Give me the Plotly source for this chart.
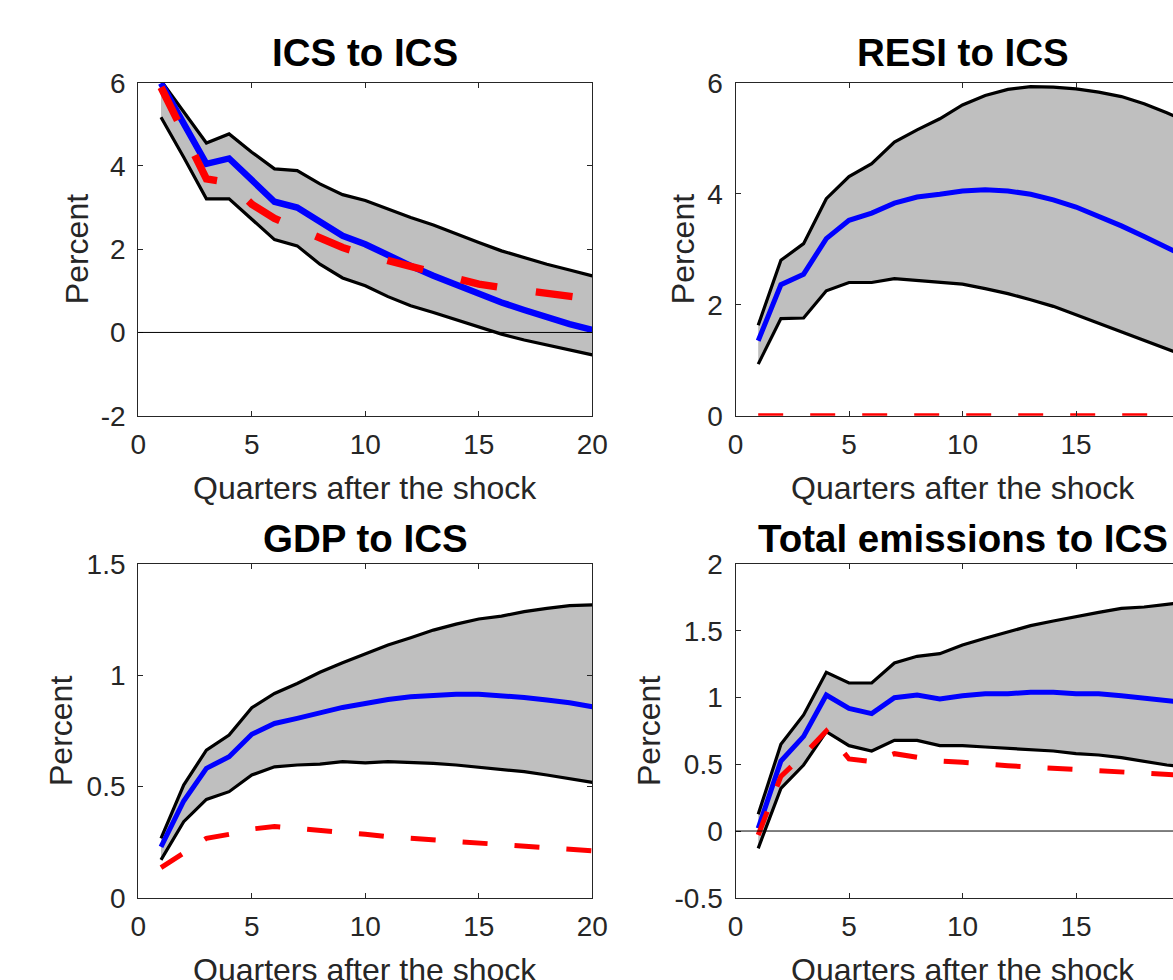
import plotly.graph_objects as go

W, H = 1173, 980
quarters = list(range(1, 21))

# Panel 1: ICS to ICS
ics_upper = [6.05, 5.29, 4.55, 4.77, 4.33, 3.93, 3.89, 3.57, 3.31, 3.17, 2.96, 2.76, 2.58, 2.36, 2.16, 1.96, 1.80, 1.64, 1.50, 1.36]
ics_lower = [5.17, 4.21, 3.21, 3.21, 2.72, 2.23, 2.08, 1.64, 1.31, 1.12, 0.86, 0.64, 0.48, 0.30, 0.12, -0.04, -0.18, -0.30, -0.42, -0.54]
ics_median = [5.99, 5.05, 4.05, 4.18, 3.65, 3.14, 3.00, 2.68, 2.32, 2.12, 1.84, 1.60, 1.36, 1.14, 0.92, 0.72, 0.54, 0.36, 0.20, 0.06]
ics_alt = [5.89, 4.80, 3.69, 3.60, 3.08, 2.74, 2.50, 2.24, 2.04, 1.87, 1.72, 1.59, 1.43, 1.30, 1.16, 1.08, 1.00, 0.94, 0.87, 0.80]

# Panel 2: RESI to ICS
resi_upper = [1.63, 2.80, 3.10, 3.91, 4.31, 4.54, 4.93, 5.15, 5.35, 5.60, 5.77, 5.88, 5.93, 5.92, 5.89, 5.83, 5.75, 5.62, 5.46, 5.28]
resi_lower = [0.93, 1.75, 1.76, 2.25, 2.40, 2.40, 2.47, 2.44, 2.41, 2.37, 2.29, 2.20, 2.09, 1.97, 1.82, 1.67, 1.52, 1.37, 1.21, 1.05]
resi_median = [1.35, 2.36, 2.55, 3.19, 3.52, 3.65, 3.83, 3.94, 3.99, 4.05, 4.07, 4.05, 3.99, 3.89, 3.76, 3.60, 3.42, 3.23, 3.04, 2.83]
resi_alt = [0.0] * 20

# Panel 3: GDP to ICS
gdp_upper = [0.267, 0.507, 0.664, 0.732, 0.855, 0.919, 0.964, 1.014, 1.057, 1.096, 1.137, 1.170, 1.204, 1.231, 1.254, 1.267, 1.287, 1.302, 1.314, 1.317]
gdp_lower = [0.170, 0.342, 0.442, 0.477, 0.552, 0.589, 0.597, 0.601, 0.612, 0.607, 0.612, 0.609, 0.604, 0.597, 0.586, 0.577, 0.567, 0.552, 0.537, 0.519]
gdp_median = [0.229, 0.435, 0.582, 0.634, 0.735, 0.784, 0.807, 0.834, 0.856, 0.874, 0.892, 0.904, 0.912, 0.915, 0.915, 0.910, 0.901, 0.889, 0.877, 0.859]
gdp_alt = [0.135, 0.203, 0.267, 0.285, 0.309, 0.320, 0.312, 0.304, 0.294, 0.285, 0.274, 0.267, 0.259, 0.252, 0.244, 0.237, 0.229, 0.222, 0.217, 0.211]

# Panel 4: Total emissions to ICS
em_upper = [0.125, 0.65, 0.87, 1.19, 1.11, 1.11, 1.26, 1.31, 1.33, 1.395, 1.445, 1.49, 1.54, 1.575, 1.61, 1.64, 1.67, 1.68, 1.70, 1.72]
em_lower = [-0.13, 0.32, 0.495, 0.745, 0.64, 0.60, 0.68, 0.68, 0.64, 0.64, 0.63, 0.62, 0.61, 0.60, 0.58, 0.57, 0.55, 0.525, 0.495, 0.48]
em_median = [0.02, 0.525, 0.71, 1.02, 0.92, 0.88, 1.00, 1.02, 0.99, 1.015, 1.03, 1.03, 1.04, 1.04, 1.03, 1.03, 1.015, 1.00, 0.98, 0.96]
em_alt = [-0.03, 0.41, 0.57, 0.75, 0.54, 0.52, 0.58, 0.55, 0.525, 0.515, 0.50, 0.49, 0.48, 0.47, 0.46, 0.45, 0.44, 0.43, 0.425, 0.415]

titles = ["ICS to ICS", "RESI to ICS", "GDP to ICS", "Total emissions to ICS"]
xlabel = "Quarters after the shock"
ylabel = "Percent"
x_ticks = [0, 5, 10, 15, 20]
y_ticks = [
    [-2, 0, 2, 4, 6],
    [0, 2, 4, 6],
    [0, 0.5, 1, 1.5],
    [-0.5, 0, 0.5, 1, 1.5, 2],
]
y_ticktext = [
    ["-2", "0", "2", "4", "6"],
    ["0", "2", "4", "6"],
    ["0", "0.5", "1", "1.5"],
    ["-0.5", "0", "0.5", "1", "1.5", "2"],
]
y_ranges = [[-2, 6], [0, 6], [0, 1.5], [-0.5, 2]]

panels = [
    (ics_upper, ics_lower, ics_median, ics_alt),
    (resi_upper, resi_lower, resi_median, resi_alt),
    (gdp_upper, gdp_lower, gdp_median, gdp_alt),
    (em_upper, em_lower, em_median, em_alt),
]

# layout geometry (pixels)
px_per_q = 22.7
left_x0 = 138.3
right_x0 = 735.5
top_y = (82.7, 415.7)
bot_y = (564.3, 897.7)

x_domains = [
    [left_x0 / W, (left_x0 + 20 * px_per_q) / W],
    [right_x0 / W, 1.0],
]
x_ranges = [[0, 20], [0, (W - right_x0) / px_per_q]]
y_domains = [
    [1 - top_y[1] / H, 1 - top_y[0] / H],
    [1 - bot_y[1] / H, 1 - bot_y[0] / H],
]

FONT = "Liberation Sans, Arial, Helvetica, sans-serif"
TXT = "#262626"
fig = go.Figure()

for i, (up, lo, med, alt) in enumerate(panels):
    col = i % 2
    row = i // 2
    xa = "x" if i == 0 else f"x{i+1}"
    ya = "y" if i == 0 else f"y{i+1}"
    big = i == 0
    bw = 3.2
    fig.add_trace(go.Scatter(x=quarters, y=lo, mode="lines", line=dict(color="black", width=bw),
                             xaxis=xa, yaxis=ya, showlegend=False, hoverinfo="skip"))
    fig.add_trace(go.Scatter(x=quarters, y=up, mode="lines", line=dict(color="black", width=bw),
                             fill="tonexty", fillcolor="#bfbfbf",
                             xaxis=xa, yaxis=ya, showlegend=False, hoverinfo="skip"))
    fig.add_trace(go.Scatter(x=quarters, y=med, mode="lines",
                             line=dict(color="#0000ff", width=6.5 if big else 5),
                             xaxis=xa, yaxis=ya, showlegend=False))
    fig.add_trace(go.Scatter(x=quarters, y=alt, mode="lines",
                             line=dict(color="#ff0000", width=7.5 if big else 5,
                                       dash="37px,39px" if big else "25px,27px"),
                             xaxis=xa, yaxis=ya, showlegend=False))

    axcommon = dict(showline=True, linecolor=TXT, linewidth=1.3, ticks="inside", ticklen=5,
                    tickwidth=1.2, tickcolor=TXT, showgrid=False, zeroline=False, automargin=False,
                    tickfont=dict(family=FONT, size=28, color=TXT))
    xkey = "xaxis" if i == 0 else f"xaxis{i+1}"
    ykey = "yaxis" if i == 0 else f"yaxis{i+1}"
    fig.update_layout(**{
        xkey: dict(domain=x_domains[col], range=x_ranges[col], anchor=ya, mirror="ticks",
                   tickvals=x_ticks, ticktext=[str(t) for t in x_ticks], ticklabelstandoff=4,
                   **axcommon),
        ykey: dict(domain=y_domains[row], range=y_ranges[i], anchor=xa,
                   mirror="ticks" if col == 0 else False,
                   tickvals=y_ticks[i], ticktext=y_ticktext[i], ticklabelstandoff=6,
                   **axcommon),
    })
    # zero reference line
    if y_ranges[i][0] < 0:
        fig.add_shape(type="line", xref=f"{xa} domain", yref=ya, x0=0, x1=1, y0=0, y1=0,
                      line=dict(color="black", width=1), layer="above")

# text annotations
title_y = [53, 538]
xlabel_y = [487.5, 969.5]
centers_x = [(left_x0 + left_x0 + 20 * px_per_q) / 2, (right_x0 + right_x0 + 20 * px_per_q) / 2]
ylabel_x = [[77, 683], [61, 649]]
for i in range(4):
    col = i % 2
    row = i // 2
    ymid = (top_y[0] + top_y[1]) / 2 if row == 0 else (bot_y[0] + bot_y[1]) / 2
    fig.add_annotation(text=f"<b>{titles[i]}</b>", xref="paper", yref="paper",
                       x=centers_x[col] / W, y=1 - title_y[row] / H, xanchor="center", yanchor="middle",
                       showarrow=False, font=dict(family=FONT, size=38.5, color="black"))
    fig.add_annotation(text=xlabel, xref="paper", yref="paper",
                       x=centers_x[col] / W, y=1 - xlabel_y[row] / H, xanchor="center", yanchor="middle",
                       showarrow=False, font=dict(family=FONT, size=32, color=TXT))
    fig.add_annotation(text=ylabel, xref="paper", yref="paper", textangle=-90,
                       x=ylabel_x[row][col] / W, y=1 - ymid / H, xanchor="center", yanchor="middle",
                       showarrow=False, font=dict(family=FONT, size=32, color=TXT))

fig.update_layout(width=W, height=H, margin=dict(l=0, r=0, t=0, b=0, autoexpand=False),
                  paper_bgcolor="white", plot_bgcolor="white", showlegend=False)

fig.write_html("out.html", config={"displayModeBar": False},
               post_script="document.body.style.margin='0';document.body.style.overflow='hidden';")
